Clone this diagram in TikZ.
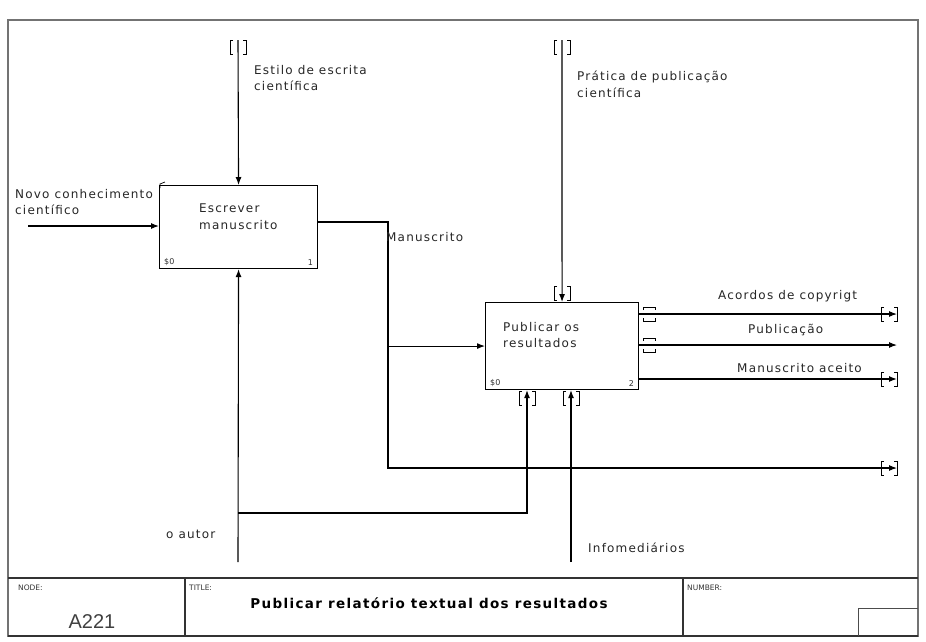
\documentclass[tikz,border=0pt]{standalone}
\usepackage{fontspec}
\setmainfont{DejaVu Sans}
\newfontfamily\lblfont{DejaVu Sans}[LetterSpace=10]
\newfontfamily\ttlfont{DejaVu Sans}[LetterSpace=10]
\newfontfamily\arialfont{Liberation Sans}
\usetikzlibrary{arrows.meta,calc}

\begin{document}
\begin{tikzpicture}[x=1pt,y=-1pt,
  line/.style={line width=1.1pt, black},
  arr/.style={line, -{Latex[length=8pt,width=6pt]}},
  actbox/.style={draw, line width=1.1pt, anchor=north west, inner sep=0pt},
  lbl/.style={font=\lblfont\fontsize{12}{16.5}\selectfont, align=left, inner sep=0pt, text=black!85},
  corner/.style={font=\fontsize{8}{9}\selectfont, inner sep=0pt, text=black!80},
  tinylbl/.style={font=\fontsize{7.5}{8}\selectfont, anchor=west, inner sep=0pt, text=black!80},
  tunnel/.pic={\draw[line width=0.9pt] (-5,-7) -- (-8,-7) -- (-8,7) -- (-5,7)
                                         (5,-7) -- (8,-7) -- (8,7) -- (5,7);},
  srctunnel/.pic={\draw[line width=0.9pt] (-6,-4) -- (-6,-7) -- (6,-7) -- (6,-4)
                                            (-6,4) -- (-6,7) -- (6,7) -- (6,4);},
]
\useasboundingbox (0,0) rectangle (926,641);

% sheet frame and title block
\draw[line width=1.5pt, black!55] (8,20) rectangle (918,636);
\draw[line width=1.2pt, black!80] (8,578) -- (918,578);
\draw[line width=1.3pt, black!80] (8,636) -- (918,636);
\draw[line width=1.2pt, black!80] (185,578) -- (185,636);
\draw[line width=1.2pt, black!80] (683,578) -- (683,636);
\draw[line width=0.9pt, black!70] (858,636) |- (918,608);
\node[tinylbl] (lnode) at (18,588) {NODE:};
\node[tinylbl] (ltitle) at (189,588) {TITLE:};
\node[tinylbl] (lnumber) at (687,588) {NUMBER:};
\node[font=\arialfont\fontsize{20}{22}\selectfont, inner sep=0pt, text=black!75] (nodeid) at (92,622) {A221};
\node[font=\ttlfont\bfseries\fontsize{13.5}{15}\selectfont, inner sep=0pt] (title) at (429,603)
  {Publicar relatório textual dos resultados};

% activity boxes
\node[actbox, minimum width=158pt, minimum height=83pt] (b1) at (159,185) {};
\node[actbox, minimum width=153pt, minimum height=87pt] (b2) at (485,302) {};
\node[lbl, anchor=north west] (t1) at (199,204) {Escrever\\manuscrito};
\node[lbl, anchor=north west] (t2) at (503,322) {Publicar os\\resultados};
\node[corner, anchor=south west] (b1cost) at ($(b1.south west)+(5,-3)$) {\$0};
\node[corner, anchor=south east] (b1num) at ($(b1.south east)+(-5,-3)$) {1};
\node[corner, anchor=south west] (b2cost) at ($(b2.south west)+(5,-3)$) {\$0};
\node[corner, anchor=south east] (b2num) at ($(b2.south east)+(-5,-3)$) {2};
\draw[line width=0.7pt] (160,188) -- (160,184) -- (165,182);

% free ends of the connectors
\coordinate (c1src) at (238,40);
\coordinate (c2src) at (562,40);
\coordinate (i1src) at (28,226);
\coordinate (j1) at (388,222);
\coordinate (j3) at (388,468);
\coordinate (o1) at (897,314);
\coordinate (o2) at (897,345);
\coordinate (o3) at (897,379);
\coordinate (o4) at (897,468);
\coordinate (mAut) at (238,562);
\coordinate (k1) at (238,513);
\coordinate (k2) at (527,513);
\coordinate (mInf) at (571,562);

% controls
\draw[arr] (c1src) -- (b1.north);
\draw[arr] (c2src) -- (b2.north);
\pic at (238,47) {tunnel};
\pic at (562,47) {tunnel};
\pic at (562,293) {tunnel};

% input
\draw[arr] (i1src) -- (i1src -| b1.west);

% Manuscrito: to box 2 and off the sheet
\draw[arr] (j1 -| b1.east) -- (j1) -- (j1 |- b2.west) -- (b2.west);
\draw[arr] (j1 |- b2.west) -- (j3) -- (o4);
\pic at (889,468) {tunnel};

% outputs of box 2
\draw[arr] (o1 -| b2.east) -- (o1);
\draw[arr] (o2 -| b2.east) -- (o2);
\draw[arr, line width=1.3pt] (o3 -| b2.east) -- (o3);
\pic at (649,314) {srctunnel};
\pic at (649,345) {srctunnel};
\pic at (889,314) {tunnel};
\pic at (889,379) {tunnel};

% mechanisms
\draw[arr] (mAut) -- (b1.south);
\draw[arr] (k1) -- (k2) -- (k2 |- b2.south);
\draw[arr] (mInf) -- (mInf |- b2.south);
\pic at (527,398) {tunnel};
\pic at (571,398) {tunnel};

% arrow labels
\node[lbl, anchor=north west] (lest) at (254,65) {Estilo de escrita\\científica};
\node[lbl, anchor=north west] (lprat) at (577,71) {Prática de publicação\\científica};
\node[lbl, anchor=north west] (lnovo) at (15,189) {Novo conhecimento\\científico};
\node[lbl, anchor=west] (lman) at (386,237) {Manuscrito};
\node[lbl, anchor=west] (lacord) at (718,296) {Acordos de copyrigt};
\node[lbl, anchor=west] (lpub) at (748,330) {Publicação};
\node[lbl, anchor=west] (laceito) at (737,368) {Manuscrito aceito};
\node[lbl, anchor=west] (laut) at (166,534) {o autor};
\node[lbl, anchor=west] (linf) at (588,548) {Infomediários};
\end{tikzpicture}
\end{document}
